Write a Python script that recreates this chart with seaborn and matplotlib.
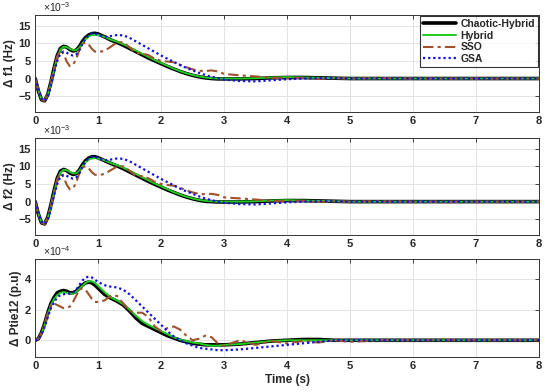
import numpy as np
import pandas as pd
import matplotlib
matplotlib.use("Agg")
import matplotlib.pyplot as plt
import seaborn as sns

# ---------------------------------------------
# data
# ---------------------------------------------
time = [0.0, 0.05, 0.10, 0.15, 0.20, 0.25, 0.30, 0.35, 0.40, 0.45, 0.50,
        0.55, 0.60, 0.65, 0.70, 0.75, 0.80, 0.85, 0.90, 0.95, 1.0,
        1.1, 1.2, 1.3, 1.4, 1.5, 1.6, 1.7, 1.8, 1.9, 2.0,
        2.1, 2.2, 2.3, 2.4, 2.5, 2.6, 2.7, 2.8, 2.9, 3.0,
        3.25, 3.5, 3.75, 4.0, 4.25, 4.5, 4.75, 5.0, 5.5, 6.0, 7.0, 8.0]

methods = ["Chaotic-Hybrid", "Hybrid", "SSO", "GSA"]

# delta f1 (x1e-3 Hz)
f1_chaotic = [0, -3.5, -6.0, -6.3, -4.5, -1.0, 3.0, 6.5, 8.5, 9.1, 8.9,
              8.2, 7.8, 8.0, 9.0, 10.5, 11.6, 12.3, 12.7, 12.8, 12.6,
              11.8, 10.9, 10.2, 9.4, 8.5, 7.6, 6.7, 5.8, 5.0, 4.2,
              3.4, 2.7, 2.0, 1.4, 0.9, 0.5, 0.2, 0.0, -0.1, -0.1,
              -0.1, 0.0, 0.2, 0.3, 0.3, 0.2, 0.1, 0.0, 0.0, 0.0, 0.0, 0.0]
f1_hybrid = [0, -3.4, -5.9, -6.2, -4.6, -1.3, 2.6, 6.0, 8.2, 9.0, 8.9,
             8.4, 8.0, 8.0, 8.7, 10.0, 11.2, 11.9, 12.3, 12.4, 12.3,
             11.8, 11.0, 10.4, 9.7, 8.8, 7.9, 7.0, 6.1, 5.2, 4.4,
             3.6, 2.8, 2.1, 1.5, 1.0, 0.6, 0.3, 0.1, 0.0, 0.0,
             0.0, 0.1, 0.3, 0.4, 0.3, 0.2, 0.1, 0.0, 0.0, 0.0, 0.0, 0.0]
f1_sso = [0, -3.5, -6.0, -6.3, -4.5, -1.0, 3.0, 6.3, 8.0, 7.0, 4.8,
          3.5, 3.8, 5.5, 8.0, 9.8, 10.2, 9.6, 8.4, 7.6, 7.5,
          7.8, 9.0, 10.2, 10.3, 8.8, 7.2, 7.1, 6.6, 5.6, 5.0,
          4.8, 4.6, 3.9, 3.2, 2.6, 2.2, 2.1, 2.3, 2.0, 1.3,
          0.9, 0.6, 0.2, 0.1, 0.2, -0.1, 0.1, 0.0, 0.1, 0.0, 0.0, 0.0]
f1_gsa = [0, -3.3, -5.8, -6.3, -5.0, -2.0, 1.8, 5.0, 7.0, 7.6, 7.3,
          6.8, 6.5, 6.8, 8.0, 9.8, 11.3, 12.3, 12.8, 12.8, 12.3,
          11.8, 12.0, 12.3, 12.2, 11.5, 10.5, 9.5, 8.5, 7.5, 6.5,
          5.6, 4.7, 3.8, 3.0, 2.3, 1.6, 1.0, 0.5, 0.1, -0.3,
          -0.7, -0.8, -0.5, -0.2, 0.0, 0.1, 0.1, 0.0, 0.0, 0.0, 0.0, 0.0]

# delta f2 (x1e-3 Hz)
f2_chaotic = [0, -3.5, -6.0, -6.3, -4.4, -0.9, 3.1, 6.6, 8.6, 9.1, 8.8,
              8.1, 7.7, 7.9, 8.9, 10.4, 11.6, 12.3, 12.7, 12.7, 12.4,
              11.6, 10.8, 10.1, 9.3, 8.4, 7.5, 6.6, 5.7, 4.9, 4.1,
              3.3, 2.6, 1.9, 1.3, 0.8, 0.4, 0.1, 0.0, -0.1, -0.1,
              -0.1, 0.0, 0.2, 0.3, 0.3, 0.2, 0.1, 0.0, 0.0, 0.0, 0.0, 0.0]
f2_hybrid = [0, -3.4, -5.9, -6.2, -4.6, -1.3, 2.6, 6.0, 8.2, 9.0, 8.9,
             8.4, 8.0, 8.0, 8.7, 10.0, 11.2, 11.9, 12.2, 12.3, 12.2,
             11.7, 10.9, 10.3, 9.6, 8.7, 7.8, 6.9, 6.0, 5.1, 4.3,
             3.5, 2.7, 2.0, 1.4, 0.9, 0.5, 0.2, 0.1, 0.0, 0.0,
             0.0, 0.1, 0.3, 0.4, 0.3, 0.2, 0.1, 0.0, 0.0, 0.0, 0.0, 0.0]
f2_sso = [0, -3.5, -6.0, -6.3, -4.5, -1.0, 3.0, 6.3, 8.0, 7.0, 4.8,
          3.5, 3.7, 5.4, 7.9, 9.7, 10.0, 9.4, 8.3, 7.6, 7.5,
          7.8, 8.9, 9.9, 10.0, 8.7, 7.3, 7.2, 6.6, 5.6, 5.0,
          4.7, 4.5, 3.9, 3.2, 2.6, 2.2, 2.1, 2.2, 1.9, 1.2,
          0.9, 0.6, 0.2, 0.1, 0.2, -0.1, 0.1, 0.0, 0.1, 0.0, 0.0, 0.0]
f2_gsa = [0, -3.3, -5.8, -6.3, -5.0, -2.0, 1.8, 5.0, 7.0, 7.6, 7.3,
          6.8, 6.5, 6.8, 8.0, 9.8, 11.3, 12.3, 12.7, 12.7, 12.2,
          11.7, 11.9, 12.2, 12.1, 11.4, 10.4, 9.4, 8.4, 7.4, 6.4,
          5.5, 4.6, 3.7, 2.9, 2.2, 1.5, 0.9, 0.4, 0.0, -0.3,
          -0.7, -0.8, -0.5, -0.2, 0.0, 0.1, 0.1, 0.0, 0.0, 0.0, 0.0, 0.0]

# delta Ptie12 (x1e-4 p.u)
p_chaotic = [0, 0.1, 0.5, 1.1, 1.8, 2.4, 2.8, 3.1, 3.2, 3.25, 3.2,
             3.1, 3.1, 3.2, 3.4, 3.6, 3.75, 3.8, 3.75, 3.6, 3.4,
             3.0, 2.75, 2.55, 2.3, 1.9, 1.45, 1.1, 0.9, 0.7, 0.5,
             0.3, 0.15, 0.0, -0.1, -0.2, -0.25, -0.3, -0.3, -0.3, -0.3,
             -0.25, -0.15, -0.05, 0.0, 0.05, 0.05, 0.0, 0.0, 0.0, 0.0, 0.0, 0.0]
p_hybrid = [0, 0.1, 0.45, 1.0, 1.7, 2.3, 2.7, 2.95, 3.1, 3.15, 3.1,
            3.05, 3.05, 3.15, 3.35, 3.55, 3.75, 3.85, 3.85, 3.75, 3.55,
            3.15, 2.8, 2.6, 2.35, 2.0, 1.6, 1.25, 1.0, 0.8, 0.6,
            0.4, 0.2, 0.05, -0.05, -0.15, -0.2, -0.3, -0.35, -0.35, -0.3,
            -0.25, -0.15, -0.05, 0.0, 0.0, 0.0, 0.0, 0.0, 0.0, 0.0, 0.0, 0.0]
p_sso = [0, 0.1, 0.5, 1.1, 1.8, 2.3, 2.4, 2.3, 2.2, 2.1, 2.1,
         2.2, 2.5, 2.9, 3.3, 3.4, 3.3, 3.0, 2.7, 2.5, 2.5,
         2.6, 2.9, 2.9, 2.4, 1.9, 1.8, 1.8, 1.5, 0.9, 0.6,
         0.8, 0.9, 0.7, 0.3, 0.0, 0.1, 0.3, 0.2, -0.2, -0.35,
         0.0, -0.3, -0.05, -0.2, -0.05, -0.15, 0.0, -0.1, 0.0, 0.0, 0.0, 0.0]
p_gsa = [0, 0.05, 0.4, 0.9, 1.5, 2.1, 2.5, 2.8, 2.95, 3.0, 3.05,
         3.05, 3.1, 3.3, 3.6, 3.9, 4.1, 4.15, 4.1, 3.95, 3.8,
         3.6, 3.5, 3.45, 3.3, 3.0, 2.6, 2.2, 1.8, 1.4, 1.0,
         0.6, 0.25, 0.0, -0.2, -0.35, -0.5, -0.55, -0.6, -0.65, -0.65,
         -0.6, -0.5, -0.4, -0.3, -0.2, -0.1, 0.0, 0.0, 0.0, 0.0, 0.0, 0.0]

panels = [
    ([f1_chaotic, f1_hybrid, f1_sso, f1_gsa], "\u0394 f1 (Hz)", r"$\times10^{-3}$", (-9.5, 18), [-5, 0, 5, 10, 15]),
    ([f2_chaotic, f2_hybrid, f2_sso, f2_gsa], "\u0394 f2 (Hz)", r"$\times10^{-3}$", (-9.5, 18), [-5, 0, 5, 10, 15]),
    ([p_chaotic, p_hybrid, p_sso, p_gsa], "\u0394 Ptie12 (p.u)", r"$\times10^{-4}$", (-1.1, 5.3), [0, 2, 4]),
]

styles = {
    "Chaotic-Hybrid": dict(color="black", lw=2.6, ls="-"),
    "Hybrid":         dict(color="#1fcc1f", lw=1.4, ls="-"),
    "SSO":            dict(color="#a0522d", lw=1.5, ls=(0, (5, 2, 1.5, 2))),
    "GSA":            dict(color="#1010e0", lw=1.6, ls=(0, (1, 1.3))),
}

# ---------------------------------------------
# plot
# ---------------------------------------------
sns.set_style("white")
plt.rcParams["font.family"] = ["Liberation Sans", "DejaVu Sans"]
plt.rcParams["mathtext.fontset"] = "custom"
plt.rcParams["mathtext.rm"] = "Liberation Sans"

fig = plt.figure(figsize=(5.5, 3.92), dpi=100)
boxes = [[0.064, 0.714, 0.916, 0.248],
         [0.064, 0.400, 0.916, 0.248],
         [0.064, 0.089, 0.916, 0.250]]

for i, (series, ylabel, expo, ylim, yticks) in enumerate(panels):
    ax = fig.add_axes(boxes[i])
    for name, vals in zip(methods, series):
        df = pd.DataFrame({"t": time, "v": vals})
        st = styles[name]
        sns.lineplot(data=df, x="t", y="v", ax=ax, color=st["color"],
                     linewidth=st["lw"], linestyle=st["ls"], label=name,
                     legend=False)
    ax.set_xlim(0, 8)
    ax.set_ylim(*ylim)
    ax.set_xticks(range(0, 9))
    ax.set_yticks(yticks)
    ax.grid(True, color="#e3e3e3", linewidth=0.7)
    ax.tick_params(direction="in", top=True, right=True, length=3,
                   labelsize=8, width=0.6, pad=3)
    for lab in ax.get_xticklabels() + ax.get_yticklabels():
        lab.set_fontweight("bold")
    for sp in ax.spines.values():
        sp.set_color("#333333")
        sp.set_linewidth(0.7)
    ax.set_ylabel(ylabel, fontsize=8.5, fontweight="bold", labelpad=2)
    ax.set_xlabel("")
    # exponent label, nudged right so it clears the "0" tick label above
    ax.text(0.016, 1.01, expo, transform=ax.transAxes, fontsize=7.5,
            ha="left", va="bottom")
    if i == 0:
        leg = ax.legend(loc="upper right", fontsize=7.5, frameon=True,
                        fancybox=False, borderpad=0.3, labelspacing=0.15,
                        handlelength=3.2, handletextpad=0.4,
                        borderaxespad=0.1)
        leg.get_frame().set_edgecolor("black")
        leg.get_frame().set_linewidth(0.8)
        for t in leg.get_texts():
            t.set_fontweight("bold")
    if i == 2:
        ax.set_xlabel("Time (s)", fontsize=8.5, fontweight="bold", labelpad=2)

fig.savefig("out.png", dpi=100)
